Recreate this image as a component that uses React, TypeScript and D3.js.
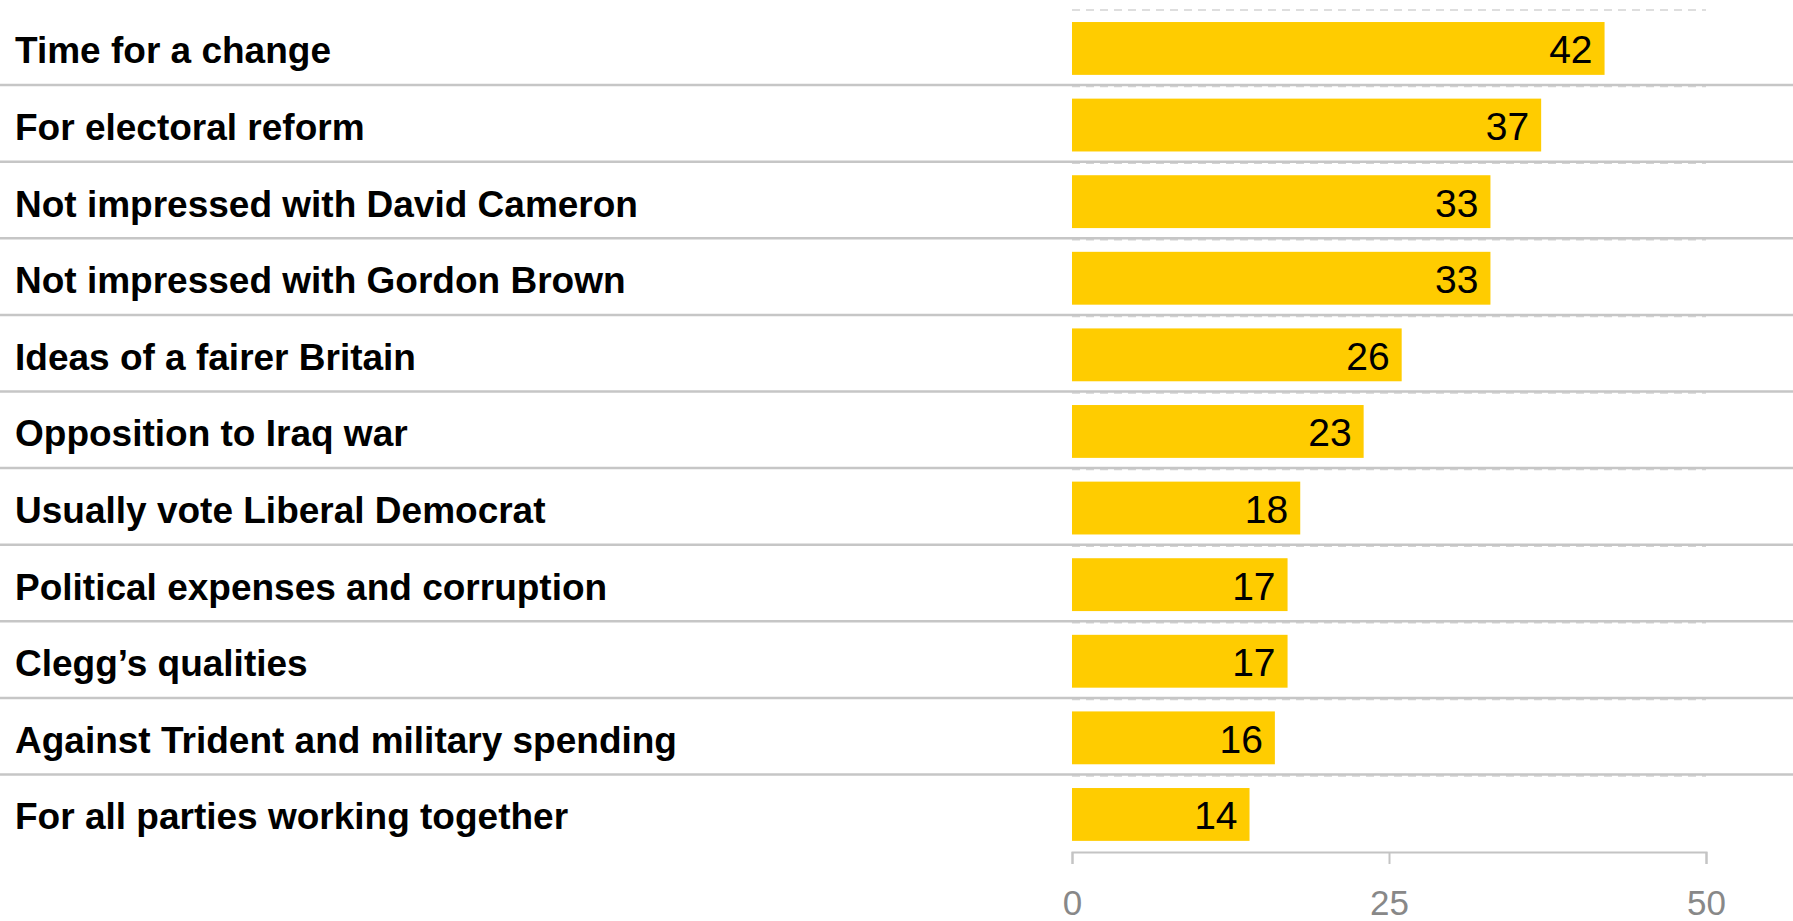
import React, { useEffect, useRef } from "react";
import * as d3 from "d3";

const categories: string[] = [
  "Time for a change",
  "For electoral reform",
  "Not impressed with David Cameron",
  "Not impressed with Gordon Brown",
  "Ideas of a fairer Britain",
  "Opposition to Iraq war",
  "Usually vote Liberal Democrat",
  "Political expenses and corruption",
  "Clegg\u2019s qualities",
  "Against Trident and military spending",
  "For all parties working together",
];
const values: number[] = [42, 37, 33, 33, 26, 23, 18, 17, 17, 16, 14];
const tickValues: number[] = [0, 25, 50];

const W = 1793;
const H = 921;

export default function App() {
  const ref = useRef<SVGSVGElement | null>(null);

  useEffect(() => {
    const svg = d3.select(ref.current);
    svg.selectAll("*").remove();

    const x = d3.scaleLinear().domain([0, 50]).range([1072, 1706]);
    const rows = d3.scaleBand<string>().domain(categories).range([9, 851.6]).padding(0);
    const bw = rows.bandwidth();

    const data = categories.map((c, i) => ({ c, v: values[i] }));

    // dashed gridlines at band boundaries (chart area)
    const bounds = d3.range(categories.length).map((i) => rows(categories[i]) as number);
    svg
      .append("g")
      .selectAll("line")
      .data(bounds)
      .join("line")
      .attr("x1", x(0))
      .attr("x2", x(50))
      .attr("y1", (d) => d + 1)
      .attr("y2", (d) => d + 1)
      .attr("stroke", "#d4d4d4")
      .attr("stroke-width", 1.5)
      .attr("stroke-dasharray", "8,6");

    // solid separators between rows
    svg
      .append("g")
      .selectAll("line")
      .data(bounds.slice(1))
      .join("line")
      .attr("x1", 0)
      .attr("x2", W)
      .attr("y1", (d) => d - 0.5)
      .attr("y2", (d) => d - 0.5)
      .attr("stroke", "#c6c6c6")
      .attr("stroke-width", 2.5);

    // bars
    svg
      .append("g")
      .selectAll("rect")
      .data(data)
      .join("rect")
      .attr("x", x(0))
      .attr("y", (d) => (rows(d.c) as number) + bw * 0.17)
      .attr("width", (d) => x(d.v) - x(0))
      .attr("height", bw * 0.69)
      .attr("fill", "#ffcc00");

    // value labels
    svg
      .append("g")
      .selectAll("text")
      .data(data)
      .join("text")
      .attr("x", (d) => x(d.v) - 12)
      .attr("y", (d) => (rows(d.c) as number) + bw / 2 + 16)
      .attr("text-anchor", "end")
      .attr("font-family", "'Liberation Sans', Arial, sans-serif")
      .attr("font-size", 39)
      .attr("fill", "#000")
      .text((d) => String(d.v));

    // category labels
    svg
      .append("g")
      .selectAll("text")
      .data(data)
      .join("text")
      .attr("x", 15)
      .attr("y", (d) => (rows(d.c) as number) + bw / 2 + 16)
      .attr("font-family", "'Liberation Sans', Arial, sans-serif")
      .attr("font-weight", "bold")
      .attr("font-size", 37)
      .attr("fill", "#000")
      .text((d) => d.c);

    // axis
    const axisY = 852;
    const axisG = svg.append("g").attr("transform", `translate(0,${axisY})`);
    const axis = d3
      .axisBottom(x)
      .tickValues(tickValues)
      .tickSize(12)
      .tickSizeOuter(12)
      .tickPadding(26)
      .tickFormat((d) => String(d));
    axisG.call(axis);
    axisG.select(".domain").attr("stroke", "#c4c4c4").attr("stroke-width", 2);
    axisG.selectAll(".tick line").attr("stroke", "#c4c4c4").attr("stroke-width", 2);
    axisG
      .selectAll(".tick text")
      .attr("font-family", "'Liberation Sans', Arial, sans-serif")
      .attr("font-size", 35)
      .attr("fill", "#888");
  }, []);

  return (
    <div style={{ position: "absolute", left: 0, top: 0 }}>
      <svg ref={ref} width={W} height={H} style={{ display: "block", background: "#fff" }} />
    </div>
  );
}
